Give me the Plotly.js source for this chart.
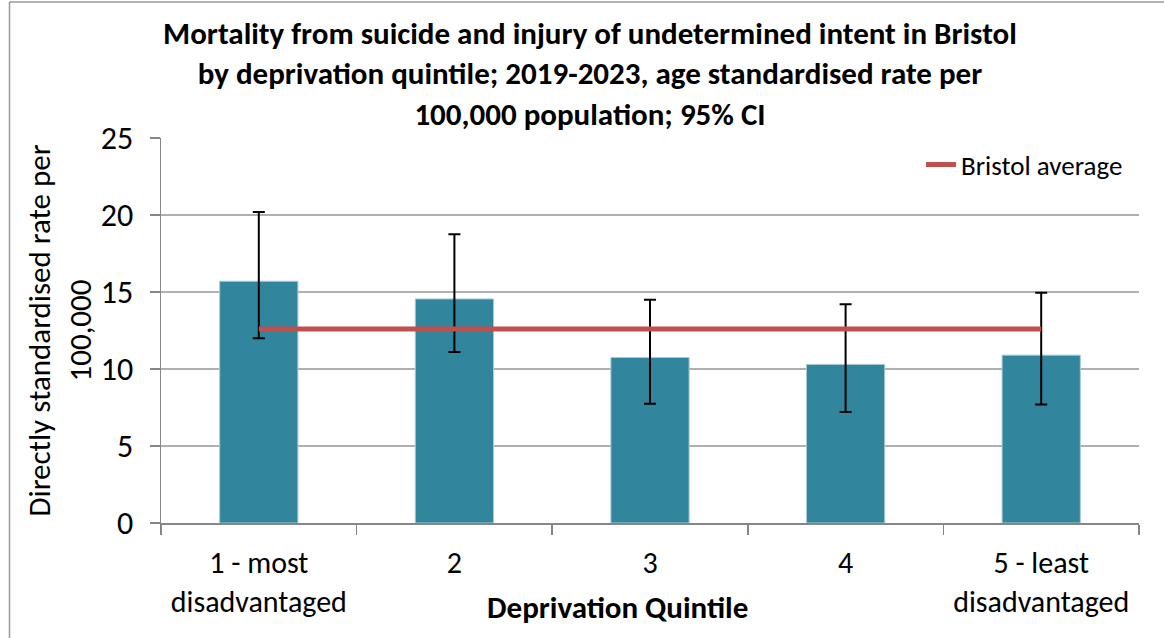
<!DOCTYPE html>
<html>
<head>
<meta charset="utf-8">
<script src="https://cdn.plot.ly/plotly-3.0.1.min.js"></script>
<style>html,body{margin:0;padding:0;background:#fff;}#chart{width:1164px;height:638px;}</style>
</head>
<body>
<div id="chart"></div>
<script>
// Data
const categories = ["1 - most<br>disadvantaged", "2", "3", "4", "5 - least<br>disadvantaged"];
const rates = [15.7, 14.55, 10.75, 10.3, 10.9];
const ciUpper = [20.2, 18.75, 14.5, 14.2, 14.95];
const ciLower = [12.0, 11.1, 7.75, 7.2, 7.7];
const bristolAverage = 12.6;
const yTicks = [0, 5, 10, 15, 20, 25];

const FONT = "Carlito, Lato, 'Open Sans', sans-serif";

const barTrace = {
  type: "bar",
  x: categories,
  y: rates,
  width: 0.4,
  marker: {color: "#31859C", line: {color: "#a9cbd5", width: 1}},
  error_y: {
    type: "data",
    symmetric: false,
    array: rates.map((v, i) => ciUpper[i] - v),
    arrayminus: rates.map((v, i) => v - ciLower[i]),
    color: "#000000",
    thickness: 2,
    width: 6
  },
  showlegend: false,
  hoverinfo: "x+y"
};

const avgTrace = {
  type: "scatter",
  mode: "lines",
  name: "Bristol average",
  x: categories,
  y: categories.map(() => bristolAverage),
  line: {color: "#C0504D", width: 5},
  showlegend: true
};

const L = 161, R = 1139, T = 138, B = 523;
const pw = R - L, ph = B - T;
const px = v => (v - L) / pw;
const py = v => (B - v) / ph;

const layout = {
  width: 1164,
  height: 638,
  margin: {l: L, r: 1164 - R, t: T, b: 638 - B, pad: 0},
  paper_bgcolor: "#ffffff",
  plot_bgcolor: "#ffffff",
  font: {family: FONT, size: 30, color: "#000000"},
  title: {
    text: "<b>Mortality from suicide and injury of undetermined intent in Bristol<br>by deprivation quintile; 2019-2023, age standardised rate per<br>100,000 population; 95% CI</b>",
    font: {family: FONT, size: 31, color: "#000000"},
    x: 590 / 1164,
    xanchor: "center",
    xref: "container",
    y: 1 - 44 / 638,
    yref: "container",
    yanchor: "middle"
  },
  xaxis: {
    type: "category",
    showline: true,
    linecolor: "#868686",
    linewidth: 1.5,
    ticks: "outside",
    tickson: "boundaries",
    ticklen: 10,
    tickcolor: "#868686",
    tickwidth: 1.5,
    ticklabelstandoff: 12,
    showgrid: false,
    tickfont: {family: FONT, size: 30, color: "#000000"},
    fixedrange: true
  },
  yaxis: {
    range: [0, 25],
    tickvals: yTicks,
    ticktext: yTicks.map(String),
    showline: true,
    linecolor: "#868686",
    linewidth: 1.5,
    ticks: "outside",
    ticklen: 10,
    tickcolor: "#868686",
    tickwidth: 1.5,
    ticklabelstandoff: 10,
    showgrid: true,
    gridcolor: "#b0b0b0",
    gridwidth: 1.5,
    zeroline: false,
    tickfont: {family: FONT, size: 32, color: "#000000"},
    title: {
      text: "Directly standardised rate per<br>100,000",
      font: {family: FONT, size: 31, color: "#000000"},
      standoff: 0
    },
    fixedrange: true
  },
  legend: {
    x: px(1128),
    xanchor: "right",
    y: py(165),
    yanchor: "middle",
    bgcolor: "rgba(0,0,0,0)",
    font: {family: FONT, size: 27, color: "#000000"},
    itemwidth: 30
  },
  annotations: [{
    text: "<b>Deprivation Quintile</b>",
    xref: "paper", yref: "paper",
    x: px(617), y: py(607),
    xanchor: "center", yanchor: "middle",
    showarrow: false,
    font: {family: FONT, size: 31, color: "#000000"}
  }],
  shapes: [
    {type: "line", xref: "paper", yref: "paper", x0: px(9.5), x1: px(9.5), y0: py(2), y1: py(645), line: {color: "#9a9a9a", width: 1.5}},
    {type: "line", xref: "paper", yref: "paper", x0: px(9.5), x1: px(1170), y0: py(2), y1: py(2), line: {color: "#9a9a9a", width: 1.5}}
  ],
  bargap: 0.6
};

Plotly.newPlot("chart", [barTrace, avgTrace], layout, {displayModeBar: false, staticPlot: true});
</script>
</body>
</html>
